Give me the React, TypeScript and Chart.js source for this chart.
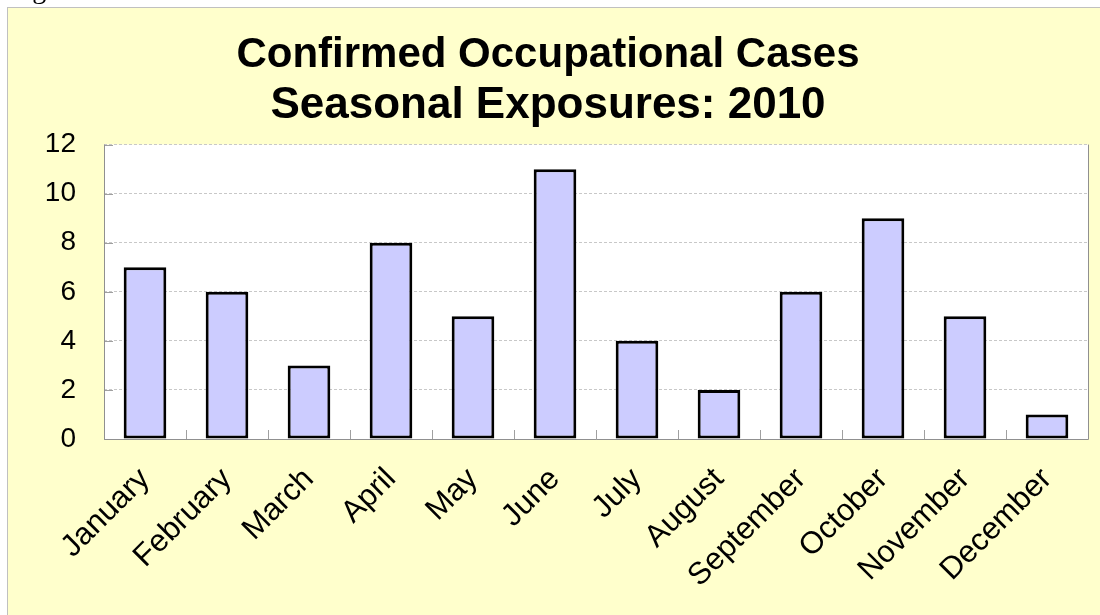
import React, { useEffect, useRef } from "react";
import { Chart, registerables } from "chart.js";

Chart.register(...registerables);

const months = [
  "January", "February", "March", "April", "May", "June",
  "July", "August", "September", "October", "November", "December",
];
const cases = [7, 6, 3, 8, 5, 11, 4, 2, 6, 9, 5, 1];
const titleText = "Confirmed Occupational Cases";
const subtitleText = "Seasonal Exposures: 2010";
const yMin = 0;
const yMax = 12;
const yStep = 2;

const FONT = '"Liberation Sans", Arial, Helvetica, sans-serif';

const plotDecor = {
  id: "plotDecor",
  beforeDraw(chart: any) {
    const { ctx, chartArea: a } = chart;
    ctx.save();
    ctx.fillStyle = "#ffffff";
    ctx.fillRect(a.left, a.top, a.right - a.left, a.bottom - a.top);
    ctx.restore();
  },
  beforeDatasetsDraw(chart: any) {
    const { ctx, chartArea: a } = chart;
    const xs = chart.scales.x;
    const ys = chart.scales.y;
    ctx.save();
    ctx.lineWidth = 1;
    ctx.strokeStyle = "#a0a0a0";
    ctx.beginPath();
    const n = xs.ticks.length;
    for (let i = 1; i < n; i++) {
      const x = Math.round((xs.getPixelForTick(i - 1) + xs.getPixelForTick(i)) / 2) + 0.5;
      ctx.moveTo(x, a.bottom);
      ctx.lineTo(x, a.bottom - 9);
    }
    ys.ticks.forEach((t: any) => {
      const y = Math.round(ys.getPixelForValue(t.value)) + 0.5;
      ctx.moveTo(a.left, y);
      ctx.lineTo(a.left + 9, y);
    });
    ctx.stroke();
    ctx.strokeStyle = "#909090";
    ctx.beginPath();
    ctx.moveTo(Math.round(a.left) + 0.5, a.top);
    ctx.lineTo(Math.round(a.left) + 0.5, Math.round(a.bottom) + 0.5);
    ctx.lineTo(Math.round(a.right) + 0.5, Math.round(a.bottom) + 0.5);
    ctx.lineTo(Math.round(a.right) + 0.5, a.top);
    ctx.stroke();
    ctx.restore();
  },
};

export default function App() {
  const ref = useRef<HTMLCanvasElement | null>(null);

  useEffect(() => {
    if (!ref.current) return;
    const chart = new Chart(ref.current, {
      type: "bar",
      data: {
        labels: months,
        datasets: [
          {
            data: cases,
            backgroundColor: "#CCCCFF",
            borderColor: "#000000",
            borderWidth: 3,
            borderSkipped: false,
            categoryPercentage: 1,
            barPercentage: 0.52,
          },
        ],
      },
      options: {
        responsive: false,
        animation: false,
        layout: { padding: { left: 0, right: 12, top: 0, bottom: 0 } },
        plugins: {
          legend: { display: false },
          tooltip: { enabled: false },
          title: {
            display: true,
            text: titleText,
            color: "#000000",
            font: { family: FONT, size: 42, weight: "bold", lineHeight: 1.1 },
            padding: { top: 24, bottom: 0 },
          },
          subtitle: {
            display: true,
            text: subtitleText,
            color: "#000000",
            font: { family: FONT, size: 44, weight: "bold", lineHeight: 1.1 },
            padding: { top: 3, bottom: 15 },
          },
        },
        scales: {
          x: {
            grid: { display: false, drawTicks: false },
            border: { display: false },
            ticks: {
              color: "#000000",
              font: { family: FONT, size: 31 },
              minRotation: 45,
              maxRotation: 45,
              autoSkip: false,
              padding: 22,
            },
            afterFit(axis: any) {
              axis.height = 176;
            },
          },
          y: {
            min: yMin,
            max: yMax,
            grid: { color: "#c8c8c8", drawTicks: false },
            border: { display: false, dash: [3, 2] },
            ticks: {
              stepSize: yStep,
              color: "#000000",
              font: { family: FONT, size: 28 },
              padding: 28,
            },
            afterFit(axis: any) {
              axis.width = 96;
            },
          },
        },
      },
      plugins: [plotDecor],
    });
    return () => chart.destroy();
  }, []);

  return (
    <>
      <div
        style={{
          position: "fixed",
          left: 9,
          top: -25,
          fontFamily: '"Liberation Serif", "Times New Roman", serif',
          fontSize: 28,
          lineHeight: "28px",
          whiteSpace: "nowrap",
          color: "#000",
        }}
      >
        Figure 3
      </div>
      <div
        style={{
          position: "fixed",
          left: 7,
          top: 7,
          width: 1100,
          height: 620,
          background: "#FFFFCC",
          borderLeft: "1px solid #c0c0c0",
          borderTop: "1px solid #c0c0c0",
          overflow: "hidden",
        }}
      >
        <canvas
          ref={ref}
          width={1092}
          height={607}
          style={{ display: "block", width: 1092, height: 607 }}
        />
      </div>
    </>
  );
}
